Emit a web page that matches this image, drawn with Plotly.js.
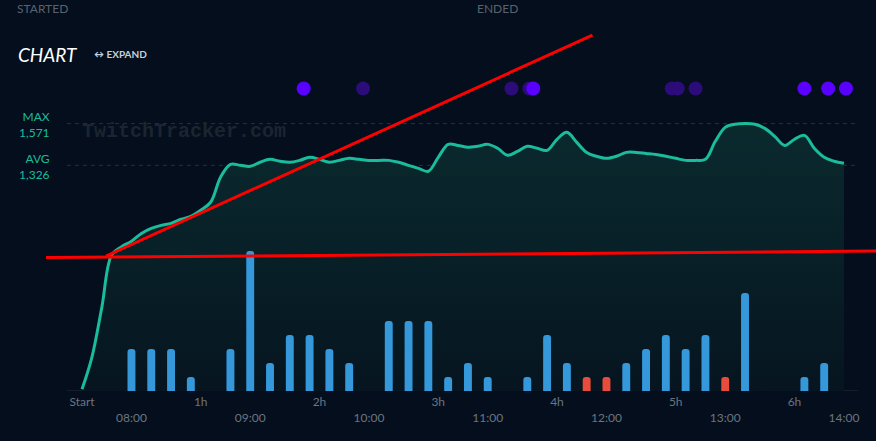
<!DOCTYPE html>
<html>
<head>
<meta charset="utf-8">
<script src="https://cdn.plot.ly/plotly-3.0.1.min.js"></script>
<style>
  html, body { margin: 0; padding: 0; background: #040e1c; }
  #chart { width: 876px; height: 441px; }
</style>
</head>
<body>
<div id="chart"></div>
<script>
// ---------- DATA ----------
const day = "2024-01-01 ";

const viewerTimes = [
  "07:35","07:40","07:45","07:50","07:55",
  "08:00","08:05","08:10","08:15","08:20","08:25","08:30","08:35","08:40","08:45","08:50","08:55",
  "09:00","09:05","09:10","09:15","09:20","09:25","09:30","09:35","09:40","09:45","09:50","09:55",
  "10:00","10:05","10:10","10:15","10:20","10:25","10:30","10:35","10:40","10:45","10:50","10:55",
  "11:00","11:05","11:10","11:15","11:20","11:25","11:30","11:35","11:40","11:45","11:50","11:55",
  "12:00","12:05","12:10","12:15","12:20","12:25","12:30","12:35","12:40","12:45","12:50","12:55",
  "13:00","13:05","13:10","13:15","13:20","13:25","13:30","13:35","13:40","13:45","13:50","13:55",
  "14:00"
];
const viewers = [
  10, 198, 490, 800, 848,
  880, 926, 956, 973, 985, 1009, 1026, 1062, 1109, 1256, 1332, 1326,
  1320, 1344, 1361, 1350, 1344, 1355, 1373, 1361, 1344, 1355, 1367, 1361,
  1355, 1355, 1355, 1344, 1326, 1308, 1291, 1373, 1449, 1443, 1432, 1438,
  1449, 1426, 1385, 1408, 1438, 1426, 1414, 1479, 1520, 1461, 1402, 1379,
  1367, 1379, 1402, 1402, 1396, 1390, 1379, 1367, 1355, 1355, 1361, 1467,
  1549, 1567, 1571, 1567, 1543, 1496, 1443, 1479, 1502, 1426, 1373, 1350,
  1338
];
const maxViewers = 1571;
const avgViewers = 1326;

const barTimes = [
  "08:00","08:10","08:20","08:30","08:40","08:50",
  "09:00","09:10","09:20","09:30","09:40","09:50",
  "10:00","10:10","10:20","10:30","10:40","10:50",
  "11:00","11:10","11:20","11:30","11:40","11:50",
  "12:00","12:10","12:20","12:30","12:40","12:50",
  "13:00","13:10","13:20","13:30","13:40","13:50"
];
const followsGained = [
  3, 3, 3, 1, 0, 3,
  10, 2, 4, 4, 3, 2,
  0, 5, 5, 5, 1, 2,
  1, 0, 1, 4, 2, 0,
  0, 2, 3, 4, 3, 4,
  0, 7, 0, 0, 1, 2
];
const followsLost = [
  0, 0, 0, 0, 0, 0,
  0, 0, 0, 0, 0, 0,
  0, 0, 0, 0, 0, 0,
  0, 0, 0, 0, 0, 1,
  1, 0, 0, 0, 0, 0,
  1, 0, 0, 0, 0, 0
];

const eventsMinor = ["09:57","11:12","11:21","12:33","12:36","12:45"];
const eventsMajor = ["09:27","11:23","13:40","13:52","14:01"];

const hourTickTimes  = ["07:35","08:35","09:35","10:35","11:35","12:35","13:35"];
const hourTickLabels = ["Start","1h","2h","3h","4h","5h","6h"];
const clockTickTimes  = ["08:00","09:00","10:00","11:00","12:00","13:00","14:00"];
const clockTickLabels = ["08:00","09:00","10:00","11:00","12:00","13:00","14:00"];

// hand-drawn red trend lines: [time, viewers]
const trendUpStart = ["07:47:08", 793];
const trendUpEnd   = ["11:52:56", 2091];
const trendFlatLeft  = 784;
const trendFlatRight = 822;

// ---------- BUILD ----------
const d = t => day + t;
const xRange = [d("07:16:49"), d("14:16:11")];
const axisSpan = [d("07:27:25"), d("14:07:05")];

const traces = [
  {
    type: "scatter", mode: "lines",
    x: viewerTimes.map(d), y: viewers,
    xaxis: "x", yaxis: "y",
    line: { color: "#1abc9c", width: 3, shape: "spline", smoothing: 1 },
    fill: "tozeroy",
    fillgradient: { type: "vertical", colorscale: [[0, "#061520"], [1, "#0a2a2e"]] },
    hoverinfo: "skip"
  },
  {
    type: "bar",
    x: barTimes.map(d), y: followsGained,
    xaxis: "x", yaxis: "y2",
    width: 240000,
    marker: { color: "#3498db", cornerradius: 4, line: { width: 0 } },
    hoverinfo: "skip"
  },
  {
    type: "bar",
    x: barTimes.map(d), y: followsLost,
    xaxis: "x", yaxis: "y2",
    width: 240000,
    marker: { color: "#e74c3c", cornerradius: 4, line: { width: 0 } },
    hoverinfo: "skip"
  },
  {
    type: "scatter", mode: "markers",
    x: eventsMinor.map(d), y: eventsMinor.map(() => 0.838),
    xaxis: "x2", yaxis: "y3",
    marker: { color: "#2b0c78", size: 14 },
    hoverinfo: "skip"
  },
  {
    type: "scatter", mode: "markers",
    x: eventsMajor.map(d), y: eventsMajor.map(() => 0.838),
    xaxis: "x2", yaxis: "y3",
    marker: { color: "#5a00ff", size: 14 },
    hoverinfo: "skip"
  }
];

const tickFont = { family: "Lato, sans-serif", size: 12, color: "#6b7580" };
const green = "#1abc9c";

const layout = {
  width: 876, height: 441,
  margin: { l: 46, r: 0, t: 30, b: 50 },
  paper_bgcolor: "#040e1c",
  plot_bgcolor: "#040e1c",
  showlegend: false,
  hovermode: false,
  barmode: "overlay",
  xaxis: {
    type: "date", range: xRange,
    tickvals: hourTickTimes.map(d), ticktext: hourTickLabels,
    showgrid: false, zeroline: false, showline: false, ticks: "",
    ticklabelstandoff: 2,
    tickfont: tickFont
  },
  xaxis2: {
    type: "date", range: xRange, overlaying: "x", anchor: "y", side: "bottom",
    tickvals: clockTickTimes.map(d), ticktext: clockTickLabels,
    showgrid: false, zeroline: false, showline: false, ticks: "",
    ticklabelstandoff: 18,
    tickfont: tickFont
  },
  yaxis: { range: [0, 2121], visible: false, fixedrange: true },
  yaxis2: { range: [0, 25.79], overlaying: "y", visible: false },
  yaxis3: { range: [0, 1], overlaying: "y", visible: false },
  shapes: [
    { type: "line", layer: "below", xref: "x", yref: "y", x0: axisSpan[0], x1: axisSpan[1], y0: 0, y1: 0,
      line: { color: "#26303c", width: 1 } },
    { type: "line", layer: "below", xref: "x", yref: "y", x0: axisSpan[0], x1: axisSpan[1], y0: maxViewers, y1: maxViewers,
      line: { color: "#26323e", width: 1, dash: "4px,4px" } },
    { type: "line", layer: "below", xref: "x", yref: "y", x0: axisSpan[0], x1: axisSpan[1], y0: avgViewers, y1: avgViewers,
      line: { color: "#26323e", width: 1, dash: "4px,4px" } },
    { type: "line", layer: "above", xref: "x", yref: "y",
      x0: d(trendUpStart[0]), y0: trendUpStart[1], x1: d(trendUpEnd[0]), y1: trendUpEnd[1],
      line: { color: "#ff0000", width: 3 } },
    { type: "line", layer: "above", xref: "paper", yref: "y",
      x0: 0, y0: trendFlatLeft, x1: 1, y1: trendFlatRight,
      line: { color: "#ff0000", width: 3 } }
  ],
  annotations: [
    { text: "STARTED", xref: "paper", yref: "paper", x: -0.0361, y: 1.0831, xanchor: "left", yanchor: "top",
      borderpad: 0, showarrow: false, font: { family: "Lato, sans-serif", size: 12, color: "#59636e" } },
    { text: "ENDED", xref: "paper", yref: "paper", x: 0.5181, y: 1.0831, xanchor: "left", yanchor: "top",
      borderpad: 0, showarrow: false, font: { family: "Lato, sans-serif", size: 12, color: "#59636e" } },
    { text: "<i>CHART</i>", xref: "paper", yref: "paper", x: -0.0361, y: 0.9321, xanchor: "left", yanchor: "middle",
      showarrow: false, font: { family: "Lato, sans-serif", size: 19, color: "#ffffff" } },
    { text: "<b>↔ EXPAND</b>", xref: "paper", yref: "paper", x: 0.0554, y: 0.9335, xanchor: "left", yanchor: "middle",
      showarrow: false, font: { family: "Lato, sans-serif", size: 10, color: "#c8d0d8" } },
    { text: "<b>TwitchTracker.com</b>", xref: "paper", yref: "paper", x: 0.1663, y: 0.7175, xanchor: "center", yanchor: "middle",
      showarrow: false, font: { family: "Liberation Mono, monospace", size: 20, color: "#1a2531" } },
    { text: "MAX<br>" + maxViewers.toLocaleString("en-US"), xref: "paper", yref: "y", x: 0.0072, y: maxViewers,
      xanchor: "right", yanchor: "middle", align: "right", yshift: -1,
      showarrow: false, font: { family: "Lato, sans-serif", size: 12, color: green } },
    { text: "AVG<br>" + avgViewers.toLocaleString("en-US"), xref: "paper", yref: "y", x: 0.0072, y: avgViewers,
      xanchor: "right", yanchor: "middle", align: "right", yshift: -1,
      showarrow: false, font: { family: "Lato, sans-serif", size: 12, color: green } }
  ]
};

Plotly.newPlot("chart", traces, layout, { displayModeBar: false, staticPlot: true });
</script>
</body>
</html>
